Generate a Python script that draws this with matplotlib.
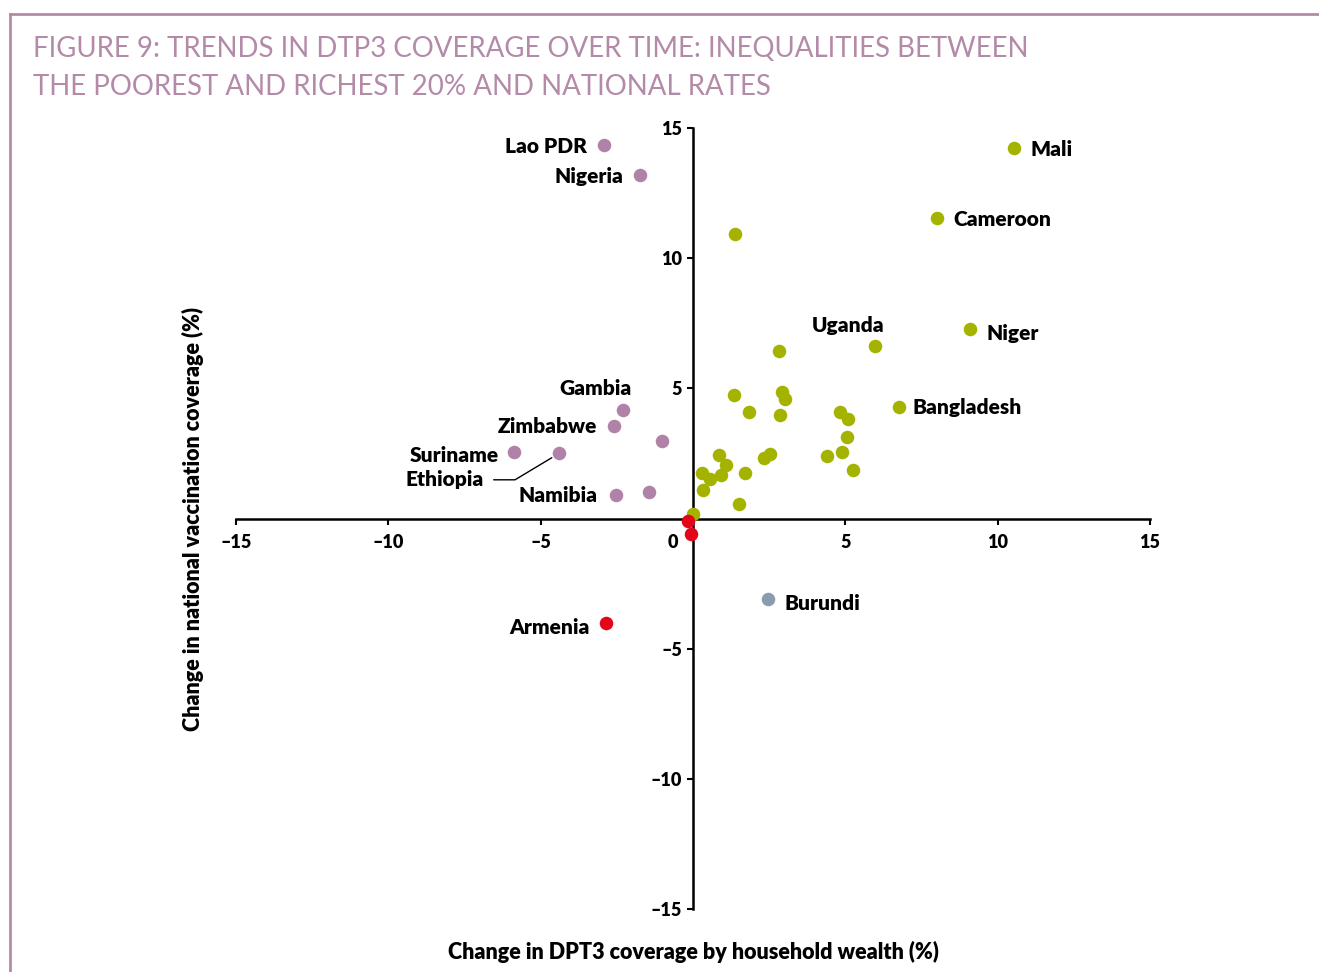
import numpy as np
import matplotlib
matplotlib.use("Agg")
import matplotlib.pyplot as plt
from matplotlib.lines import Line2D
from matplotlib.transforms import ScaledTranslation

plt.rcParams['font.family'] = ['Lato', 'DejaVu Sans']

# data
purple_x = [-2.92, -1.74, -2.30, -2.59, -1.02, -5.87, -4.40, -2.53, -1.44]
purple_y = [14.33, 13.20, 4.15, 3.57, 2.96, 2.57, 2.50, 0.92, 1.00]

red_x = [-2.86, -0.16, -0.07]
red_y = [-4.03, -0.08, -0.61]

grey_x = [2.46]
grey_y = [-3.11]

green_x = [10.53, 8.01, 1.38, 9.09, 5.97, 6.76, 2.83, 1.36, 2.91, 3.03, 1.85, 2.85,
           4.83, 5.10, 5.04, 4.88, 4.39, 5.25, 2.52, 2.32, 1.70, 0.85, 1.08, 0.93,
           0.29, 0.56, 0.34, 1.51, 0.01]
green_y = [14.25, 11.53, 10.91, 7.26, 6.61, 4.30, 6.45, 4.74, 4.87, 4.60, 4.10, 3.98,
           4.11, 3.81, 3.14, 2.57, 2.41, 1.86, 2.49, 2.31, 1.76, 2.42, 2.05, 1.66,
           1.74, 1.50, 1.11, 0.55, 0.18]

# labelled countries: name, x, y
labels = [("Lao PDR", -2.92, 14.33), ("Nigeria", -1.74, 13.20), ("Gambia", -2.30, 4.15),
          ("Zimbabwe", -2.59, 3.57), ("Suriname", -5.87, 2.57), ("Namibia", -2.53, 0.92),
          ("Armenia", -2.86, -4.03), ("Burundi", 2.46, -3.11), ("Uganda", 5.97, 6.61),
          ("Niger", 9.09, 7.26), ("Bangladesh", 6.76, 4.30), ("Cameroon", 8.01, 11.53),
          ("Mali", 10.53, 14.25)]
# text offsets in points and alignment
offsets = {"Lao PDR": (-12, -1, 'right'), "Nigeria": (-12, -1, 'right'), "Gambia": (6, 16, 'right'),
           "Zimbabwe": (-12, -1, 'right'), "Suriname": (-11, -3, 'right'), "Namibia": (-13, -1, 'right'),
           "Armenia": (-12, -3, 'right'), "Burundi": (12, -3, 'left'), "Uganda": (-19, 15, 'center'),
           "Niger": (12, -3, 'left'), "Bangladesh": (10, -1, 'left'), "Cameroon": (12, -1, 'left'),
           "Mali": (12, -1.5, 'left')}

c_purple = '#b082a7'
c_green = '#a3b300'
c_red = '#e3061b'
c_grey = '#8a9daf'
c_frame = '#b48aa9'

fig = plt.figure(figsize=(13.19, 9.72), dpi=100)
ax = fig.add_axes([236 / 1319, 1 - 909 / 972, 914 / 1319, 781 / 972])

ms = 95
ax.scatter(green_x, green_y, s=ms, color=c_green, zorder=3, linewidths=0)
ax.scatter(purple_x, purple_y, s=ms, color=c_purple, zorder=3, linewidths=0)
ax.scatter(grey_x, grey_y, s=ms, color=c_grey, zorder=3, linewidths=0)
ax.scatter(red_x, red_y, s=ms, color=c_red, zorder=4, linewidths=0)

lab_fs = 15
for name, x, y in labels:
    dx, dy, ha = offsets[name]
    ax.annotate(name, (x, y), xytext=(dx, dy), textcoords='offset points',
                ha=ha, va='center', fontsize=lab_fs, fontweight='heavy')

# Ethiopia with leader line
ax.annotate("Ethiopia", (-4.40, 2.50), xytext=(-54, -19), textcoords='offset points',
            ha='right', va='center', fontsize=lab_fs, fontweight='heavy',
            arrowprops=dict(arrowstyle='-', color='black', lw=1,
                            connectionstyle='angle,angleA=0,angleB=31,rad=0',
                            relpos=(1, 0.5), shrinkA=5, shrinkB=6))

ax.set_xlim(-15, 15)
ax.set_ylim(-15, 15)
for s in ['top', 'right']:
    ax.spines[s].set_visible(False)
ax.spines['left'].set_position(('data', 0))
ax.spines['bottom'].set_position(('data', 0))
ax.spines['left'].set_linewidth(1.8)
ax.spines['bottom'].set_linewidth(1.8)

ticks = [-15, -10, -5, 0, 5, 10, 15]
xlabels = [str(t).replace('-', '\u2013') for t in ticks]
ylabels = [l if t != 0 else '' for t, l in zip(ticks, xlabels)]
ax.set_xticks(ticks)
ax.set_xticklabels(xlabels)
ax.set_yticks(ticks)
ax.set_yticklabels(ylabels)
ax.tick_params(axis='x', direction='out', length=4, width=1.5, pad=7, labelsize=13)
ax.tick_params(axis='y', direction='out', length=4, width=1.5, pad=4, labelsize=13)
for t in ax.get_xticklabels() + ax.get_yticklabels():
    t.set_fontweight('heavy')
# zero label sits left of the vertical axis
zl = ax.get_xticklabels()[3]
zl.set_transform(zl.get_transform() + ScaledTranslation(-20 / 100, 0, fig.dpi_scale_trans))

fig.text(693 / 1319, 1 - 952 / 972, "Change in DPT3 coverage by household wealth (%)",
         ha='center', va='center', fontsize=15.5, fontweight='heavy')
fig.text(193 / 1319, 1 - 519 / 972, "Change in national vaccination coverage (%)",
         ha='center', va='center', rotation=90, fontsize=15.5, fontweight='heavy')

fig.text(33 / 1319, 1 - 49 / 972, "FIGURE 9: TRENDS IN DTP3 COVERAGE OVER TIME: INEQUALITIES BETWEEN",
         ha='left', va='center', fontsize=19.9, color=c_frame)
fig.text(33 / 1319, 1 - 87 / 972, "THE POOREST AND RICHEST 20% AND NATIONAL RATES",
         ha='left', va='center', fontsize=19.9, color=c_frame)

fig.add_artist(Line2D([10 / 1319, 1], [1 - 14 / 972, 1 - 14 / 972], color=c_frame, lw=2))
fig.add_artist(Line2D([10 / 1319, 10 / 1319], [0, 1 - 14 / 972], color=c_frame, lw=2))

fig.savefig("out.png", dpi=100)
